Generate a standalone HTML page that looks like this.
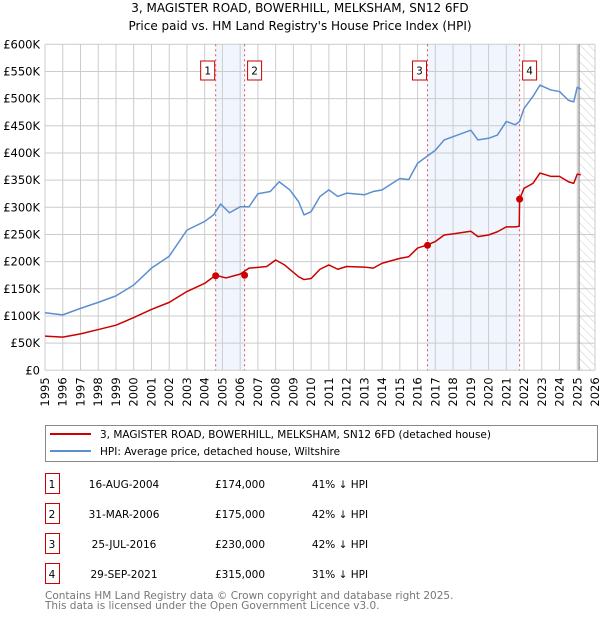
<!DOCTYPE html>
<html><head><meta charset="utf-8"><style>
body{margin:0;background:#fff;font-family:"Liberation Sans","DejaVu Sans",sans-serif;}
svg text{font-family:"DejaVu Sans","Liberation Sans",sans-serif;}
</style></head><body>
<svg id="chart" width="600" height="620" xmlns="http://www.w3.org/2000/svg">
<defs><pattern id="hatch" width="6" height="6" patternUnits="userSpaceOnUse" patternTransform="rotate(-45)"><line x1="0" y1="0" x2="0" y2="6" stroke="#ccc" stroke-width="1"/></pattern></defs>
<text x="300" y="12" text-anchor="middle" font-size="12">3, MAGISTER ROAD, BOWERHILL, MELKSHAM, SN12 6FD</text>
<text x="300" y="30" text-anchor="middle" font-size="12">Price paid vs. HM Land Registry's House Price Index (HPI)</text>
<g id="plot"></g>
<rect x="45.5" y="425.5" width="552" height="36" fill="#fff" stroke="#888"/>
<line x1="50" y1="434" x2="91" y2="434" stroke="#cc0000" stroke-width="2"/>
<text x="100" y="438" font-size="10.5">3, MAGISTER ROAD, BOWERHILL, MELKSHAM, SN12 6FD (detached house)</text>
<line x1="50" y1="451" x2="91" y2="451" stroke="#5b8fd0" stroke-width="2"/>
<text x="100" y="455" font-size="10.5">HPI: Average price, detached house, Wiltshire</text>
<g id="table" font-size="10.5"></g>
<text x="45" y="599" font-size="10.5" fill="#777">Contains HM Land Registry data © Crown copyright and database right 2025.</text>
<text x="45" y="609" font-size="10.5" fill="#777">This data is licensed under the Open Government Licence v3.0.</text>
</svg>
<script>
const hpiYears=[1995,1996,1997,1998,1999,2000,2001,2002,2003,2004,2004.5,2004.9,2005.4,2006,2006.5,2007,2007.7,2008.2,2008.8,2009.3,2009.6,2010,2010.5,2011,2011.5,2012,2013,2013.5,2014,2015,2015.5,2016,2016.5,2017,2017.5,2018,2019,2019.4,2020,2020.5,2021,2021.5,2021.75,2022,2022.5,2022.9,2023.5,2024,2024.5,2024.8,2025,2025.2];
const hpiValues=[106,102,114,125,137,157,188,210,258,274,286,306,290,301,301,325,329,347,332,310,286,292,320,332,320,326,323,329,332,353,351,381,393,405,424,430,442,424,427,433,458,452,458,482,504,525,516,513,497,494,521,517];
const priceYears=[1995,1996,1997,1998,1999,2000,2001,2002,2003,2004,2004.62,2005.2,2006,2006.5,2007.5,2008,2008.5,2009.3,2009.6,2010,2010.5,2011,2011.5,2012,2013,2013.5,2014,2015,2015.5,2016,2016.56,2017,2017.5,2018,2019,2019.4,2020,2020.5,2021,2021.5,2021.73,2021.75,2022,2022.5,2022.9,2023.5,2024,2024.5,2024.8,2025,2025.2];
const priceValues=[63,61,67,75,83,97,112,125,145,160,175,170,177,188,191,203,194,172,167,169,186,194,186,191,190,188,197,206,209,225,231,237,249,251,256,246,249,255,264,264,265,315,335,344,363,357,357,347,344,361,360];
const saleLabels=["1","2","3","4"];
const saleYears=[2004.62,2006.25,2016.56,2021.75];
const saleValues=[174,175,230,315];
const saleDates=["16-AUG-2004","31-MAR-2006","25-JUL-2016","29-SEP-2021"];
const salePrices=["£174,000","£175,000","£230,000","£315,000"];
const saleDiffs=["41% ↓ HPI","42% ↓ HPI","42% ↓ HPI","31% ↓ HPI"];
const yTicks=[0,50,100,150,200,250,300,350,400,450,500,550,600];
const yTickLabels=["£0","£50K","£100K","£150K","£200K","£250K","£300K","£350K","£400K","£450K","£500K","£550K","£600K"];
const xTicks=[];for(let y=1995;y<=2026;y++)xTicks.push(y);

const X0=45,X1=595,Y0=370.3,Y1=44.3;
const xs=v=>X0+(v-1995)/(2026-1995)*(X1-X0);
const ys=v=>Y0-(v/600)*(Y0-Y1);
const NS="http://www.w3.org/2000/svg";
const plot=document.getElementById('plot');
function mk(tag,attrs,parent){const e=document.createElementNS(NS,tag);for(const k in attrs)e.setAttribute(k,attrs[k]);(parent||plot).appendChild(e);return e;}
for(let i=0;i<saleYears.length;i+=2){
 const r=mk('rect',{x:xs(saleYears[i]),y:Y1,width:xs(saleYears[i+1])-xs(saleYears[i]),height:Y0-Y1,fill:'#eef3fc',opacity:0.8});
 
 
}
const hx=xs(2025.1);
const h=mk('rect',{x:hx,y:Y1,width:X1-hx,height:Y0-Y1,fill:'url(#hatch)'});


xTicks.forEach(t=>{mk('line',{x1:xs(t),x2:xs(t),y1:Y1,y2:Y0,stroke:'#ccc','stroke-width':1});
 const tx=mk('text',{x:0,y:0,'font-size':11.5,'text-anchor':'end',transform:`translate(${xs(t)+4},${Y0+7}) rotate(-90)`});
 tx.textContent=t;
 
 
});
yTicks.forEach((t,i)=>{mk('line',{x1:X0,x2:X1,y1:ys(t),y2:ys(t),stroke:'#ccc','stroke-width':1});
 const tx=mk('text',{x:X0-5,y:ys(t)+4,'font-size':11.5,'text-anchor':'end'});
 tx.textContent=yTickLabels[i];
 
 
});
mk('line',{x1:hx,x2:hx,y1:Y1,y2:Y0,stroke:'#888','stroke-width':1.2});
saleYears.forEach((s,i)=>{
 mk('line',{x1:xs(s),x2:xs(s),y1:Y1,y2:Y0,stroke:'#e05050','stroke-width':1,'stroke-dasharray':'2,3'});
 const b=mk('rect',{x:(i%2==0?xs(s)-15:xs(s)+3),y:61,width:14,height:19,fill:'#fff',stroke:'#cc0000'});
 
 
 const t=mk('text',{x:(i%2==0?xs(s)-8:xs(s)+10),y:74.5,'font-size':10.5,'text-anchor':'middle'});
 t.textContent=saleLabels[i];
});
function line(yrs,vals,color,name){
 const p=mk('polyline',{points:yrs.map((y,i)=>xs(y)+','+ys(vals[i])).join(' '),fill:'none',stroke:color,'stroke-width':1.5,'stroke-linejoin':'round'});
 
 
}
line(hpiYears,hpiValues,'#5b8fd0','hpi-line');
line(priceYears,priceValues,'#cc0000','price-paid-line');
saleYears.forEach((s,i)=>{
 const c=mk('circle',{cx:xs(s),cy:ys(saleValues[i]),r:3.5,fill:'#cc0000'});
 
 
});
const tb=document.getElementById('table');
saleLabels.forEach((l,i)=>{
 const y=474+i*30;
 const r=mk('rect',{x:45.5,y:y-0.5,width:14,height:20,fill:'#fff',stroke:'#cc0000'},tb);
 
 
 const vals=[[l,52,'middle'],[saleDates[i],124,'middle'],[salePrices[i],240,'middle'],[saleDiffs[i],340,'middle']];
 vals.forEach(v=>{const t=mk('text',{x:v[1],y:y+14,'text-anchor':v[2]},tb);t.textContent=v[0];
  
  });
});
</script>
</body></html>
